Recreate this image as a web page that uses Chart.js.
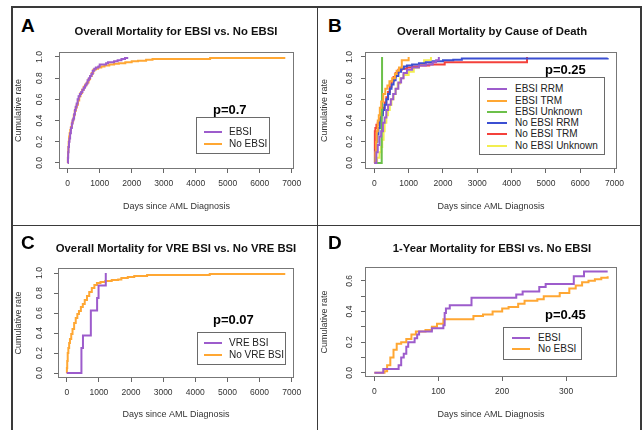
<!DOCTYPE html>
<html><head><meta charset="utf-8">
<script src="https://cdn.jsdelivr.net/npm/chart.js@4.4.1/dist/chart.umd.min.js"></script>
<style>
html,body{margin:0;padding:0;background:#fff;}
body{width:644px;height:430px;overflow:hidden;position:relative;font-family:"Liberation Sans",Arial,Helvetica,sans-serif;color:#111;}
canvas{position:absolute;}
.ln{position:absolute;background:#3a3a3a;}
.letter{position:absolute;font-weight:bold;font-size:19px;line-height:19px;color:#000;}
.title{position:absolute;font-weight:bold;font-size:11.3px;line-height:12px;white-space:nowrap;transform:translate(-50%,-50%);color:#111;}
.pval{position:absolute;font-weight:bold;font-size:13px;line-height:13px;white-space:nowrap;transform:translateY(-50%);color:#000;}
.leg{position:absolute;border:1px solid #6a6a6a;background:#fff;box-sizing:border-box;}
.li{position:absolute;font-size:10px;line-height:10px;white-space:nowrap;color:#222;transform:translateY(-50%);}
.ls{position:absolute;height:2px;transform:translateY(-50%);}
</style></head><body>

<!-- panel frame -->
<div class="ln" style="left:11px;top:6px;width:630px;height:1.5px"></div>
<div class="ln" style="left:11px;top:6px;width:1.5px;height:430px"></div>
<div class="ln" style="left:640px;top:6px;width:1.5px;height:430px"></div>
<div class="ln" style="left:316.5px;top:6px;width:1.5px;height:430px"></div>
<div class="ln" style="left:11px;top:224.5px;width:630px;height:1.5px"></div>

<canvas id="cA" width="304" height="189" style="left:12px;top:36px"></canvas>
<canvas id="cB" width="322" height="189" style="left:318px;top:36px"></canvas>
<canvas id="cC" width="304" height="180" style="left:12px;top:250px"></canvas>
<canvas id="cD" width="322" height="180" style="left:318px;top:250px"></canvas>

<div class="letter" style="left:21px;top:15.5px">A</div>
<div class="letter" style="left:328px;top:15.5px">B</div>
<div class="letter" style="left:21px;top:233px">C</div>
<div class="letter" style="left:328px;top:233px">D</div>

<div class="title" style="left:176px;top:31px">Overall Mortality for EBSI vs. No EBSI</div>
<div class="title" style="left:492px;top:31px">Overall Mortality by Cause of Death</div>
<div class="title" style="left:176px;top:248px">Overall Mortality for VRE BSI vs. No VRE BSI</div>
<div class="title" style="left:492px;top:248px">1-Year Mortality for EBSI vs. No EBSI</div>

<div class="pval" style="left:213px;top:108.5px">p=0.7</div>
<div class="pval" style="left:545px;top:68.5px">p=0.25</div>
<div class="pval" style="left:213px;top:319px">p=0.07</div>
<div class="pval" style="left:545px;top:313.5px">p=0.45</div>

<div id="legends"></div>

<script>
const FONT = '"Liberation Sans", Arial, Helvetica, sans-serif';

// ---------- tick values / labels ----------
const dayTicks = [0, 1000, 2000, 3000, 4000, 5000, 6000, 7000];
const dayTickLabels = ['0', '1000', '2000', '3000', '4000', '5000', '6000', '7000'];
const rateTicks = [0, 0.2, 0.4, 0.6, 0.8, 1.0];
const rateTickLabels = ['0.0', '0.2', '0.4', '0.6', '0.8', '1.0'];
const yearDayTicks = [0, 100, 200, 300];
const yearDayTickLabels = ['0', '100', '200', '300'];
const yearRateTicks = [0, 0.1, 0.2, 0.3, 0.4, 0.5, 0.6];
const yearRateTickLabels = ['0.0', '', '0.2', '', '0.4', '', '0.6'];

// ---------- Panel A: EBSI vs No EBSI ----------
const aEbsiDays = [0, 8, 15, 25, 40, 55, 75, 100, 130, 150, 175, 200, 225, 250, 280, 310, 340, 380, 420, 460, 500, 540, 580, 620, 660, 700, 740, 780, 830, 880, 960, 1000, 1200, 1260, 1450, 1560, 1680, 1790, 1860];
const aEbsiRate = [0, 0.05, 0.1, 0.15, 0.2, 0.23, 0.28, 0.33, 0.37, 0.4, 0.42, 0.46, 0.5, 0.53, 0.56, 0.6, 0.63, 0.65, 0.67, 0.69, 0.71, 0.73, 0.75, 0.78, 0.8, 0.82, 0.84, 0.87, 0.89, 0.9, 0.91, 0.93, 0.94, 0.95, 0.96, 0.97, 0.98, 0.99, 1.0];
const aNoEbsiDays = [0, 5, 10, 20, 30, 45, 60, 80, 100, 130, 160, 190, 220, 250, 280, 320, 360, 400, 450, 500, 550, 600, 650, 700, 750, 800, 870, 950, 1050, 1150, 1300, 1450, 1600, 1800, 2000, 2200, 2450, 2650, 4450, 6800];
const aNoEbsiRate = [0, 0.05, 0.1, 0.15, 0.2, 0.25, 0.28, 0.31, 0.34, 0.38, 0.41, 0.45, 0.49, 0.52, 0.55, 0.59, 0.63, 0.66, 0.69, 0.72, 0.74, 0.76, 0.79, 0.82, 0.85, 0.88, 0.89, 0.9, 0.91, 0.92, 0.93, 0.935, 0.94, 0.95, 0.96, 0.965, 0.975, 0.98, 0.99, 0.99];

// ---------- Panel B: by cause of death ----------
const bEbsiRrmDays = [0, 60, 100, 150, 200, 250, 300, 350, 400, 480, 550, 620, 700, 780, 850, 950, 1100, 1300, 1500, 1700, 1800, 1880];
const bEbsiRrmRate = [0, 0.1, 0.17, 0.25, 0.3, 0.38, 0.43, 0.5, 0.55, 0.6, 0.65, 0.7, 0.76, 0.8, 0.85, 0.88, 0.9, 0.92, 0.93, 0.95, 0.97, 1.0];
const bEbsiTrmDays = [0, 30, 50, 70, 100, 130, 160, 200, 260, 320, 380, 440, 520, 600, 650, 720, 800, 1000];
const bEbsiTrmRate = [0, 0.1, 0.2, 0.3, 0.4, 0.45, 0.52, 0.58, 0.65, 0.7, 0.73, 0.77, 0.8, 0.84, 0.87, 0.9, 0.97, 1.0];
const bEbsiUnkDays = [60, 215, 225];
const bEbsiUnkRate = [0, 0.5, 1.0];
const bNoEbsiRrmDays = [0, 20, 40, 60, 90, 120, 160, 200, 250, 300, 350, 400, 450, 500, 560, 620, 700, 780, 860, 950, 1100, 1300, 1500, 1700, 2000, 2300, 2550, 6800];
const bNoEbsiRrmRate = [0, 0.05, 0.12, 0.2, 0.27, 0.33, 0.4, 0.45, 0.5, 0.55, 0.6, 0.65, 0.7, 0.74, 0.78, 0.82, 0.86, 0.89, 0.91, 0.92, 0.93, 0.94, 0.95, 0.96, 0.97, 0.975, 0.985, 0.99];
const bNoEbsiTrmDays = [0, 15, 30, 60, 100, 150, 200, 250, 300, 350, 400, 450, 500, 560, 620, 700, 800, 950, 1100, 1300, 1600, 2050, 4450];
const bNoEbsiTrmRate = [0, 0.3, 0.33, 0.36, 0.38, 0.42, 0.47, 0.52, 0.57, 0.62, 0.67, 0.72, 0.77, 0.81, 0.85, 0.88, 0.89, 0.9, 0.91, 0.92, 0.93, 0.95, 1.0];
const bNoEbsiUnkDays = [0, 80, 150, 200, 230, 270, 300, 350, 400, 450, 500, 560, 620, 680, 750, 850, 1000, 1150, 1300, 1450, 1650];
const bNoEbsiUnkRate = [0, 0.05, 0.1, 0.15, 0.22, 0.3, 0.38, 0.45, 0.5, 0.55, 0.6, 0.65, 0.7, 0.75, 0.8, 0.83, 0.86, 0.9, 0.93, 0.97, 1.0];

// ---------- Panel C: VRE BSI vs No VRE BSI ----------
const cVreDays = [0, 457, 505, 750, 945, 990, 1215];
const cVreRate = [0, 0.25, 0.375, 0.625, 0.75, 0.875, 1.0];
const cNoVreDays = [0, 5, 15, 30, 50, 75, 100, 140, 180, 230, 280, 330, 380, 440, 500, 560, 630, 700, 780, 860, 940, 1050, 1200, 1400, 1600, 1700, 1900, 2100, 2500, 4450, 6800];
const cNoVreRate = [0, 0.05, 0.12, 0.2, 0.25, 0.3, 0.34, 0.39, 0.44, 0.5, 0.55, 0.59, 0.62, 0.66, 0.69, 0.73, 0.77, 0.81, 0.85, 0.88, 0.9, 0.91, 0.92, 0.93, 0.935, 0.95, 0.96, 0.97, 0.98, 0.99, 0.99];

// ---------- Panel D: 1-year EBSI vs No EBSI ----------
const dEbsiDays = [0, 14, 38, 42, 46, 50, 53, 63, 67, 70, 90, 108, 110, 112, 118, 152, 222, 232, 258, 268, 312, 328, 365];
const dEbsiRate = [0, 0.025, 0.05, 0.1, 0.125, 0.17, 0.2, 0.225, 0.25, 0.27, 0.29, 0.31, 0.39, 0.42, 0.44, 0.49, 0.51, 0.53, 0.56, 0.58, 0.63, 0.66, 0.66];
const dNoEbsiDays = [0, 16, 20, 25, 30, 35, 42, 50, 58, 65, 80, 90, 98, 108, 155, 170, 185, 200, 210, 225, 235, 255, 265, 290, 305, 315, 325, 335, 345, 355, 365];
const dNoEbsiRate = [0, 0.01, 0.05, 0.1, 0.15, 0.19, 0.2, 0.22, 0.25, 0.27, 0.28, 0.3, 0.32, 0.35, 0.37, 0.38, 0.4, 0.42, 0.43, 0.45, 0.47, 0.48, 0.5, 0.52, 0.55, 0.57, 0.59, 0.6, 0.61, 0.62, 0.63];

// ---------- colours ----------
const PURPLE = '#9d5ccc', ORANGE = '#ffa733', GREEN = '#6cc04a', BLUE = '#3b4fd2', RED = '#f4413b', YELLOW = '#f2ee50';

function pts(days, rates) { return days.map((d, i) => ({ x: d, y: rates[i] })); }

const boxPlugin = {
  id: 'rbox',
  afterDatasetsDraw(chart) {
    const a = chart.chartArea, ctx = chart.ctx;
    ctx.save();
    ctx.strokeStyle = '#777';
    ctx.lineWidth = 1;
    const l = Math.round(a.left), t = Math.round(a.top), r = Math.round(a.right), b = Math.round(a.bottom);
    ctx.strokeRect(l + 0.5, t + 0.5, r - l - 1, b - t - 1);
    ctx.restore();
  }
};

function makeChart(id, geo, series, xs, ys) {
  return new Chart(document.getElementById(id), {
    type: 'line',
    data: {
      datasets: series.map(s => ({
        data: pts(s.days, s.rates), borderColor: s.color, borderWidth: 2,
        pointRadius: 0, stepped: true, fill: false, tension: 0
      }))
    },
    options: {
      responsive: false, animation: false, devicePixelRatio: 1,
      layout: { padding: { left: 0, top: geo.padTop, right: geo.padRight, bottom: 0 } },
      plugins: { legend: { display: false }, tooltip: { enabled: false }, title: { display: false } },
      scales: {
        x: {
          type: 'linear', min: xs.min, max: xs.max,
          afterBuildTicks: s => { s.ticks = xs.ticks.map(v => ({ value: v })); },
          afterFit: s => { s.height = geo.xH; },
          grid: { drawOnChartArea: false, drawTicks: true, tickLength: 4, color: '#666', lineWidth: 1 },
          border: { display: false },
          ticks: { autoSkip: false, maxRotation: 0, minRotation: 0, padding: geo.xTickPad, color: '#333',
                   font: { family: FONT, size: 8.5 }, callback: (v, i) => xs.labels[i] },
          title: { display: true, text: 'Days since AML Diagnosis', color: '#333',
                   font: { family: FONT, size: 9 }, padding: { top: 0, bottom: geo.xTitlePad } }
        },
        y: {
          type: 'linear', min: ys.min, max: ys.max,
          afterBuildTicks: s => { s.ticks = ys.ticks.map(v => ({ value: v })); },
          afterFit: s => { s.width = geo.yW; },
          grid: { drawOnChartArea: false, drawTicks: true, tickLength: 4, color: '#666', lineWidth: 1 },
          border: { display: false },
          ticks: { autoSkip: false, minRotation: 90, maxRotation: 90, crossAlign: 'center', padding: geo.yTickPad,
                   color: '#333', font: { family: FONT, size: 8.5 }, callback: (v, i) => ys.labels[i] },
          title: { display: true, text: 'Cumulative rate', color: '#333',
                   font: { family: FONT, size: 9 }, padding: { top: geo.yTitlePad, bottom: 0 } }
        }
      }
    },
    plugins: [boxPlugin]
  });
}

const xsLong = { min: -272, max: 7072, ticks: dayTicks, labels: dayTickLabels };
const xsYear = { min: -14.6, max: 379.6, ticks: yearDayTicks, labels: yearDayTickLabels };

makeChart('cA', { padTop: 16, padRight: 22, yW: 47, xH: 56, xTickPad: 6, xTitlePad: 12.6, yTickPad: 9, yTitlePad: 1.6 },
  [{ days: aEbsiDays, rates: aEbsiRate, color: PURPLE }, { days: aNoEbsiDays, rates: aNoEbsiRate, color: ORANGE }],
  xsLong, { min: -0.057, max: 1.047, ticks: rateTicks, labels: rateTickLabels });

makeChart('cB', { padTop: 16, padRight: 23, yW: 47, xH: 56, xTickPad: 6, xTitlePad: 12.6, yTickPad: 5, yTitlePad: 1.6 },
  [{ days: bEbsiRrmDays, rates: bEbsiRrmRate, color: PURPLE },
   { days: bEbsiTrmDays, rates: bEbsiTrmRate, color: ORANGE },
   { days: bEbsiUnkDays, rates: bEbsiUnkRate, color: GREEN },
   { days: bNoEbsiRrmDays, rates: bNoEbsiRrmRate, color: BLUE },
   { days: bNoEbsiTrmDays, rates: bNoEbsiTrmRate, color: RED },
   { days: bNoEbsiUnkDays, rates: bNoEbsiUnkRate, color: YELLOW }],
  xsLong, { min: -0.057, max: 1.047, ticks: rateTicks, labels: rateTickLabels });

makeChart('cC', { padTop: 18, padRight: 22, yW: 46, xH: 52, xTickPad: 6, xTitlePad: 9.6, yTickPad: 8, yTitlePad: 1.6 },
  [{ days: cVreDays, rates: cVreRate, color: PURPLE }, { days: cNoVreDays, rates: cNoVreRate, color: ORANGE }],
  xsLong, { min: -0.05, max: 1.05, ticks: rateTicks, labels: rateTickLabels });

makeChart('cD', { padTop: 17, padRight: 23, yW: 47, xH: 53, xTickPad: 6, xTitlePad: 9.6, yTickPad: 5, yTitlePad: 1.6 },
  [{ days: dEbsiDays, rates: dEbsiRate, color: PURPLE }, { days: dNoEbsiDays, rates: dNoEbsiRate, color: ORANGE }],
  xsYear, { min: -0.027, max: 0.69, ticks: yearRateTicks, labels: yearRateTickLabels });

// ---------- legends (HTML) ----------
const legends = [
  { box: [196, 117, 74, 37], sx: 204, sw: 18, tx: 229, rows: [132, 144],
    items: [['EBSI', PURPLE], ['No EBSI', ORANGE]] },
  { box: [479, 77, 126, 78], sx: 487, sw: 20, tx: 515, rows: [89.3, 100.7, 111.9, 123.2, 134.4, 145.7],
    items: [['EBSI RRM', PURPLE], ['EBSI TRM', ORANGE], ['EBSI Unknown', GREEN], ['No EBSI RRM', BLUE], ['No EBSI TRM', RED], ['No EBSI Unknown', YELLOW]] },
  { box: [197, 332, 89, 33], sx: 204, sw: 18, tx: 229, rows: [343, 354.5],
    items: [['VRE BSI', PURPLE], ['No VRE BSI', ORANGE]] },
  { box: [503, 327, 79, 33], sx: 512, sw: 18, tx: 538, rows: [338, 349.3],
    items: [['EBSI', PURPLE], ['No EBSI', ORANGE]] }
];
const host = document.getElementById('legends');
legends.forEach(L => {
  const b = document.createElement('div');
  b.className = 'leg';
  b.style.cssText = `left:${L.box[0]}px;top:${L.box[1]}px;width:${L.box[2]}px;height:${L.box[3]}px`;
  host.appendChild(b);
  L.items.forEach((it, i) => {
    const s = document.createElement('div');
    s.className = 'ls';
    s.style.cssText = `left:${L.sx}px;top:${L.rows[i]}px;width:${L.sw}px;background:${it[1]}`;
    host.appendChild(s);
    const t = document.createElement('div');
    t.className = 'li';
    t.style.cssText = `left:${L.tx}px;top:${L.rows[i]}px`;
    t.textContent = it[0];
    host.appendChild(t);
  });
});
</script>
</body></html>
